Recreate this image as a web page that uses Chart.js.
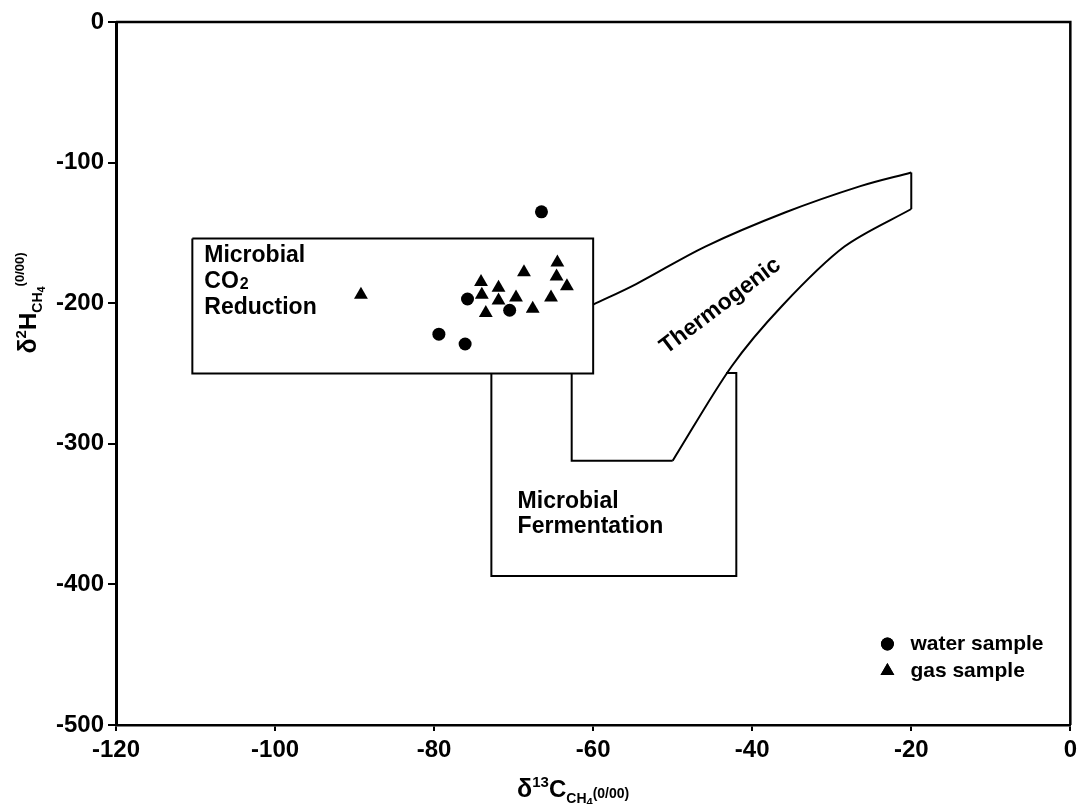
<!DOCTYPE html>
<html>
<head>
<meta charset="utf-8">
<script src="https://cdn.jsdelivr.net/npm/chart.js@4.4.0/dist/chart.umd.min.js"></script>
<style>
  body { margin: 0; background: #fff; }
  #wrap { width: 1082px; height: 804px; }
</style>
</head>
<body>
<div id="wrap"><canvas id="isoChart" width="1082" height="804"></canvas></div>
<script>
// samples: d13C (x) and d2H (y), permil
const waterC13 = [-66.5, -75.8, -70.5, -79.4, -76.1];
const waterH2 = [-135, -197, -205, -222, -229];
const gasC13 = [-89.2, -74.1, -71.9, -68.7, -64.5, -64.6, -63.3, -74.0, -71.9, -69.7, -73.5, -67.6, -65.3];
const gasH2 = [-194, -185, -189, -178, -171, -181, -188, -194, -198, -196, -207, -204, -196];

// genetic field outlines
const co2BoxC13 = [-110.4, -60, -60, -110.4, -110.4];
const co2BoxH2 = [-154, -154, -250, -250, -154];
const fermC13 = [-72.8, -72.8, -42, -42, -43.3];
const fermH2 = [-250, -394, -394, -249.6, -249.6];
const thermoTopC13 = [-60, -54.6, -45.9, -35.8, -26.4, -20];
const thermoTopH2 = [-201, -186.4, -159.7, -135.3, -116.7, -107];
const thermoEdgeC13 = [-20, -20];
const thermoEdgeH2 = [-107, -133];
const thermoLowC13 = [-20, -28.4, -36.2, -42.6, -50];
const thermoLowH2 = [-133, -159.7, -201.6, -245, -312];
const thermoStepC13 = [-50, -62.7, -62.7];
const thermoStepH2 = [-312, -312, -250];

const xTicks = [-120, -100, -80, -60, -40, -20, 0];
const yTicks = [0, -100, -200, -300, -400, -500];

const FONT = "'Liberation Sans', Arial, Helvetica, sans-serif";

function pts(xs, ys) {
    return xs.map((x, i) => ({ x: x, y: ys[i] }));
}

function outline(xs, ys, tension) {
    return {
        type: "line",
        data: pts(xs, ys),
        showLine: true,
        borderColor: "#000",
        borderWidth: 2,
        pointRadius: 0,
        fill: false,
        tension: tension || 0,
    };
}

// draws a run of text pieces with different sizes / baseline shifts
function drawRuns(ctx, runs, x, y) {
    let total = 0;
    runs.forEach((r) => {
        ctx.font = "bold " + r[1] + "px " + FONT;
        total += ctx.measureText(r[0]).width;
    });
    let cx = x - total / 2;
    ctx.textAlign = "left";
    ctx.textBaseline = "alphabetic";
    runs.forEach((r) => {
        ctx.font = "bold " + r[1] + "px " + FONT;
        ctx.fillText(r[0], cx, y + r[2]);
        cx += ctx.measureText(r[0]).width;
    });
}

const annotations = {
    id: "annotations",
    afterDraw(chart) {
        const ctx = chart.ctx;
        const xs = chart.scales.x;
        const ys = chart.scales.y;
        const a = chart.chartArea;
        ctx.save();

        // frame top + right
        ctx.strokeStyle = "#000";
        ctx.lineWidth = 2.5;
        ctx.beginPath();
        ctx.moveTo(a.left, a.top);
        ctx.lineTo(a.right, a.top);
        ctx.lineTo(a.right, a.bottom);
        ctx.stroke();

        ctx.fillStyle = "#000";

        // field labels
        ctx.font = "bold 23px " + FONT;
        ctx.textAlign = "left";
        ctx.textBaseline = "alphabetic";
        let lx = xs.getPixelForValue(-108.9);
        ctx.fillText("Microbial", lx, ys.getPixelForValue(-170.7));
        ctx.fillText("CO", lx, ys.getPixelForValue(-189.2));
        let coW = ctx.measureText("CO").width;
        ctx.font = "bold 16px " + FONT;
        ctx.fillText("2", lx + coW + 1, ys.getPixelForValue(-189.2) + 1);
        ctx.font = "bold 23px " + FONT;
        ctx.fillText("Reduction", lx, ys.getPixelForValue(-207.7));

        let fx = xs.getPixelForValue(-69.5);
        ctx.fillText("Microbial", fx, ys.getPixelForValue(-345.7));
        ctx.fillText("Fermentation", fx, ys.getPixelForValue(-363.4));

        ctx.save();
        ctx.translate(xs.getPixelForValue(-44), ys.getPixelForValue(-202));
        ctx.rotate(-37 * Math.PI / 180);
        ctx.textAlign = "center";
        ctx.textBaseline = "middle";
        ctx.fillText("Thermogenic", 0, 0);
        ctx.restore();

        // legend
        const lgX = xs.getPixelForValue(-23);
        const rows = [
            { style: "circle", r: 6.5, text: "water sample", y: ys.getPixelForValue(-442.4) },
            { style: "triangle", r: 8, text: "gas sample", y: ys.getPixelForValue(-461.6) },
        ];
        rows.forEach((row) => {
            Chart.helpers.drawPoint(ctx, { pointStyle: row.style, radius: row.r, borderWidth: 0 }, lgX, row.y);
            ctx.fill();
            ctx.font = "bold 21px " + FONT;
            ctx.textAlign = "left";
            ctx.textBaseline = "middle";
            ctx.fillText(row.text, lgX + 23, row.y);
        });

        // axis titles
        drawRuns(ctx, [["δ", 25, 0], ["13", 15, -10], ["C", 24, 0], ["CH", 14, 6], ["4", 11, 9], ["(0/00)", 14, 1]],
            (a.left + a.right) / 2 - 20, 797);

        ctx.save();
        ctx.translate(36, 303);
        ctx.rotate(-Math.PI / 2);
        drawRuns(ctx, [["δ", 25, 0], ["2", 15, -10], ["H", 24, 0], ["CH", 14, 6], ["4", 11, 9], ["(0/00)", 13, -12]], 0, 0);
        ctx.restore();

        ctx.restore();
    },
};

const ctx = document.getElementById("isoChart").getContext("2d");
const isoChart = new Chart(ctx, {
    type: "scatter",
    data: {
        datasets: [
            {
                label: "water sample",
                data: pts(waterC13, waterH2),
                pointStyle: "circle",
                pointRadius: 6.5,
                backgroundColor: "#000",
                borderColor: "#000",
                borderWidth: 0,
            },
            {
                label: "gas sample",
                data: pts(gasC13, gasH2),
                pointStyle: "triangle",
                pointRadius: 8,
                backgroundColor: "#000",
                borderColor: "#000",
                borderWidth: 0,
            },
            outline(co2BoxC13, co2BoxH2),
            outline(fermC13, fermH2),
            outline(thermoTopC13, thermoTopH2, 0.35),
            outline(thermoEdgeC13, thermoEdgeH2),
            outline(thermoLowC13, thermoLowH2, 0.3),
            outline(thermoStepC13, thermoStepH2),
        ],
    },
    options: {
        responsive: false,
        animation: false,
        layout: { padding: { top: 22, right: 5, left: 0, bottom: 0 } },
        plugins: {
            legend: { display: false },
            tooltip: { enabled: false },
        },
        scales: {
            x: {
                type: "linear",
                min: -120,
                max: 0,
                afterBuildTicks: (scale) => {
                    scale.ticks = xTicks.map((v) => ({ value: v }));
                },
                afterFit: (scale) => {
                    scale.height = 79;
                },
                border: { display: true, color: "#000", width: 2.5 },
                grid: { drawOnChartArea: false, drawTicks: true, tickLength: 6, color: "#000", lineWidth: 2 },
                ticks: {
                    color: "#000",
                    padding: 5,
                    autoSkip: false,
                    maxRotation: 0,
                    font: { family: FONT, size: 24, weight: "bold" },
                },
            },
            y: {
                type: "linear",
                min: -500,
                max: 0,
                afterBuildTicks: (scale) => {
                    scale.ticks = yTicks.map((v) => ({ value: v }));
                },
                afterFit: (scale) => {
                    scale.width = 116;
                },
                border: { display: true, color: "#000", width: 3 },
                grid: { drawOnChartArea: false, drawTicks: true, tickLength: 8, color: "#000", lineWidth: 2 },
                ticks: {
                    color: "#000",
                    padding: 4,
                    autoSkip: false,
                    font: { family: FONT, size: 24, weight: "bold" },
                },
            },
        },
    },
    plugins: [annotations],
});
</script>
</body>
</html>
